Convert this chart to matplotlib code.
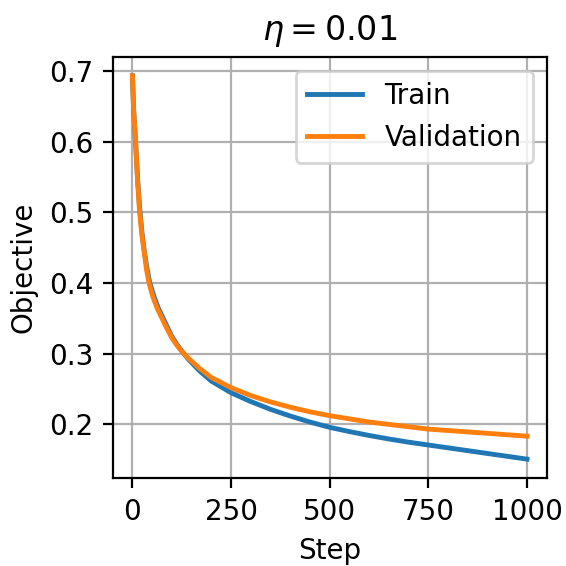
import matplotlib
matplotlib.use('Agg')
import matplotlib.pyplot as plt

# values
train_steps = [0, 3, 8, 13, 18, 24, 30, 37, 44, 55, 65, 76, 88, 100, 115, 130, 144, 170,
               200, 250, 300, 350, 400, 450, 500, 550, 600, 650, 700, 750, 800, 850,
               900, 950, 1000]
train_loss = [0.693, 0.645, 0.600, 0.548, 0.508, 0.472, 0.445, 0.420, 0.400, 0.380, 0.365,
              0.352, 0.338, 0.324, 0.311, 0.300, 0.2905, 0.2755, 0.261, 0.2445, 0.232,
              0.221, 0.2115, 0.203, 0.1955, 0.1895, 0.184, 0.179, 0.1745, 0.1705, 0.1665,
              0.1625, 0.1585, 0.1545, 0.1505]

val_steps = [0, 3, 8, 13, 18, 24, 30, 36, 42, 52, 62, 73, 86, 100, 115, 130, 144, 170,
             200, 250, 300, 350, 400, 450, 500, 600, 750, 900, 1000]
val_loss = [0.693, 0.645, 0.600, 0.545, 0.502, 0.468, 0.443, 0.418, 0.400, 0.380, 0.365,
            0.352, 0.337, 0.322, 0.310, 0.300, 0.292, 0.279, 0.266, 0.2516, 0.2405,
            0.2315, 0.224, 0.2175, 0.212, 0.203, 0.193, 0.187, 0.183]

fig = plt.figure(figsize=(2.83, 2.83), dpi=200)
ax = fig.add_axes([112.7 / 566, (566 - 478.3) / 566, 434 / 566, 421.6 / 566])

ax.plot(train_steps, train_loss, label='Train', linewidth=1.75)
ax.plot(val_steps, val_loss, label='Validation', linewidth=1.75)
ax.set_xlabel('Step')
ax.set_ylabel('Objective')
ax.set_title(r'$\eta = 0.01$')
ax.grid(True)
ax.legend(loc='upper right')

fig.savefig('out.png', dpi=200)
